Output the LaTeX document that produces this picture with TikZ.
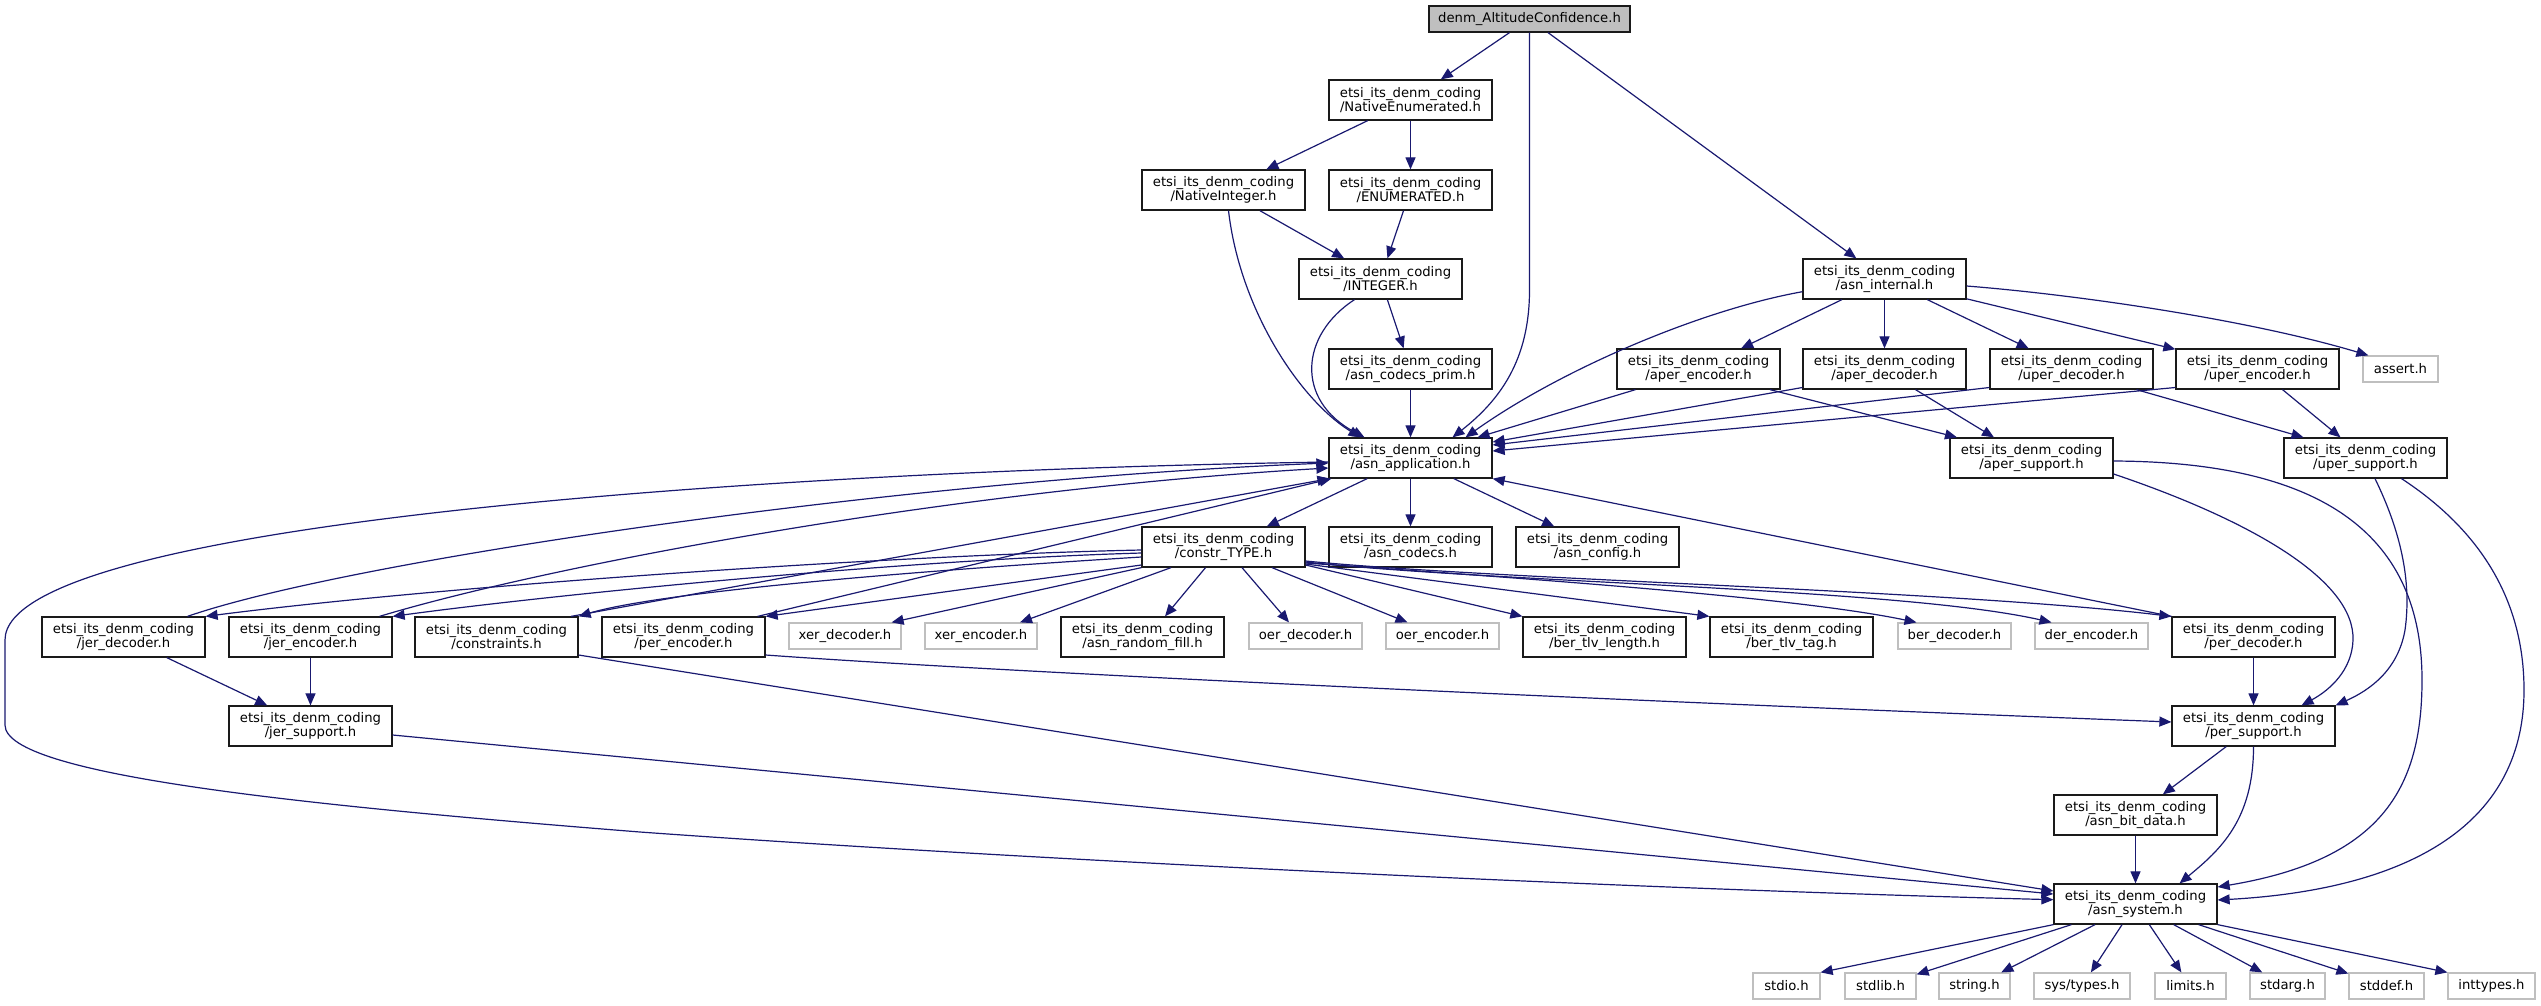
\documentclass[tikz,border=0pt]{standalone}
\usepackage{fontspec}
\setmainfont{DejaVu Sans}
\usetikzlibrary{arrows.meta}
\definecolor{edgeblue}{HTML}{191970}
\definecolor{sysgray}{HTML}{BFBFBF}
\definecolor{boxline}{HTML}{1A1A1A}

\begin{document}
\begin{tikzpicture}[x=1pt, y=-1pt,
        every node/.style={font=\fontsize{13.2}{14.5}\selectfont, align=center, inner sep=0pt},
        hdrbox/.style={draw=boxline, fill=white, line width=1.25pt, minimum width=163pt, minimum height=40pt},
        sysbox/.style={draw=sysgray, fill=white, line width=1.25pt, minimum height=26pt},
        rootbox/.style={draw=boxline, fill=sysgray, line width=1.25pt, minimum width=201pt, minimum height=26pt},
        incl/.style={draw=edgeblue, line width=1.2pt, -{Triangle[length=12pt, width=10pt]}}]
        \useasboundingbox (0,0) rectangle (2541,1005);

        % Top level - the file itself
        \node[rootbox] (root) at (1529.5, 19) {denm\_AltitudeConfidence.h};

        % Second and third level
        \node[hdrbox] (ne) at (1410.5, 100) {etsi\_its\_denm\_coding\\/NativeEnumerated.h};
        \node[hdrbox] (nint) at (1223.5, 190) {etsi\_its\_denm\_coding\\/NativeInteger.h};
        \node[hdrbox] (enm) at (1410.5, 190) {etsi\_its\_denm\_coding\\/ENUMERATED.h};
        \node[hdrbox] (intg) at (1380.5, 279) {etsi\_its\_denm\_coding\\/INTEGER.h};
        \node[hdrbox] (ai) at (1884.5, 279) {etsi\_its\_denm\_coding\\/asn\_internal.h};

        % Fourth level
        \node[hdrbox] (prim) at (1410.5, 369) {etsi\_its\_denm\_coding\\/asn\_codecs\_prim.h};
        \node[hdrbox] (ae) at (1698.5, 369) {etsi\_its\_denm\_coding\\/aper\_encoder.h};
        \node[hdrbox] (ad) at (1884.5, 369) {etsi\_its\_denm\_coding\\/aper\_decoder.h};
        \node[hdrbox] (ud) at (2071.5, 369) {etsi\_its\_denm\_coding\\/uper\_decoder.h};
        \node[hdrbox] (ue) at (2257.5, 369) {etsi\_its\_denm\_coding\\/uper\_encoder.h};
        \node[sysbox, minimum width=75pt] (as) at (2400.5, 369) {assert.h};

        % Fifth level
        \node[hdrbox] (app) at (1410.5, 458) {etsi\_its\_denm\_coding\\/asn\_application.h};
        \node[hdrbox] (aps) at (2031.5, 458) {etsi\_its\_denm\_coding\\/aper\_support.h};
        \node[hdrbox] (ups) at (2365.5, 458) {etsi\_its\_denm\_coding\\/uper\_support.h};

        % Sixth level
        \node[hdrbox] (ct) at (1223.5, 547) {etsi\_its\_denm\_coding\\/constr\_TYPE.h};
        \node[hdrbox] (codecs) at (1410.5, 547) {etsi\_its\_denm\_coding\\/asn\_codecs.h};
        \node[hdrbox] (cfg) at (1597.5, 547) {etsi\_its\_denm\_coding\\/asn\_config.h};

        % Seventh level - included by constr_TYPE.h
        \node[hdrbox] (jd) at (123.5, 637) {etsi\_its\_denm\_coding\\/jer\_decoder.h};
        \node[hdrbox] (je) at (310.5, 637) {etsi\_its\_denm\_coding\\/jer\_encoder.h};
        \node[hdrbox] (cn) at (496.5, 637) {etsi\_its\_denm\_coding\\/constraints.h};
        \node[hdrbox] (pe) at (683.5, 637) {etsi\_its\_denm\_coding\\/per\_encoder.h};
        \node[sysbox, minimum width=112pt] (xd) at (845, 636) {xer\_decoder.h};
        \node[sysbox, minimum width=112pt] (xe) at (981, 636) {xer\_encoder.h};
        \node[hdrbox] (arf) at (1142.5, 637) {etsi\_its\_denm\_coding\\/asn\_random\_fill.h};
        \node[sysbox, minimum width=113pt] (od) at (1305.5, 636) {oer\_decoder.h};
        \node[sysbox, minimum width=113pt] (oe) at (1442.5, 636) {oer\_encoder.h};
        \node[hdrbox] (btl) at (1604.5, 637) {etsi\_its\_denm\_coding\\/ber\_tlv\_length.h};
        \node[hdrbox] (btt) at (1791.5, 637) {etsi\_its\_denm\_coding\\/ber\_tlv\_tag.h};
        \node[sysbox, minimum width=113pt] (bd) at (1954.5, 636) {ber\_decoder.h};
        \node[sysbox, minimum width=113pt] (de) at (2091.5, 636) {der\_encoder.h};
        \node[hdrbox] (pd) at (2253.5, 637) {etsi\_its\_denm\_coding\\/per\_decoder.h};

        % Support level
        \node[hdrbox] (js) at (310.5, 726) {etsi\_its\_denm\_coding\\/jer\_support.h};
        \node[hdrbox] (ps) at (2253.5, 726) {etsi\_its\_denm\_coding\\/per\_support.h};
        \node[hdrbox] (abd) at (2135.5, 815) {etsi\_its\_denm\_coding\\/asn\_bit\_data.h};
        \node[hdrbox] (asys) at (2135.5, 904) {etsi\_its\_denm\_coding\\/asn\_system.h};

        % Bottom level - system headers
        \node[sysbox, minimum width=67pt] (stdio) at (1786.5, 986) {stdio.h};
        \node[sysbox, minimum width=71pt] (stdlib) at (1880.5, 986) {stdlib.h};
        \node[sysbox, minimum width=71pt] (string) at (1974.5, 986) {string.h};
        \node[sysbox, minimum width=96pt] (st) at (2082, 986) {sys/types.h};
        \node[sysbox, minimum width=71pt] (lim) at (2190.5, 986) {limits.h};
        \node[sysbox, minimum width=75pt] (sarg) at (2287.5, 986) {stdarg.h};
        \node[sysbox, minimum width=75pt] (sdef) at (2386.5, 986) {stddef.h};
        \node[sysbox, minimum width=87pt] (it) at (2491.5, 986) {inttypes.h};

        % From the top file
        \draw[incl] (root) -- (ne);
        \draw[incl] (root) -- (ai);
        \draw[incl] (root.south) -- (1529.5, 290) .. controls (1529.5, 360) and (1500, 400) .. ([xshift=42pt]app.north);

        % NativeEnumerated, NativeInteger, ENUMERATED, INTEGER
        \draw[incl] (ne) -- (nint);
        \draw[incl] (ne) -- (enm);
        \draw[incl] (nint) -- (intg);
        \draw[incl] ([xshift=5pt]nint.south) .. controls (1240, 310) and (1300, 400) .. ([xshift=-50pt]app.north);
        \draw[incl] (enm) -- (intg);
        \draw[incl] (intg) -- (prim);
        \draw[incl] ([xshift=-26pt]intg.south) .. controls (1300, 335) and (1295, 400) .. ([xshift=-46pt]app.north);
        \draw[incl] (prim) -- (app);

        % asn_internal
        \draw[incl] ([yshift=-12.7pt]ai.west) .. controls (1700, 310) and (1560, 370) .. ([xshift=55pt]app.north);
        \draw[incl] (ai) -- (ae);
        \draw[incl] (ai) -- (ad);
        \draw[incl] (ai) -- (ud);
        \draw[incl] (ai) -- (ue);
        \draw[incl] ([yshift=-7pt]ai.east) .. controls (2080, 295) and (2250, 320) .. ([xshift=6pt]as.north west);

        % aper and uper coders
        \draw[incl] ([xshift=-63pt]ae.south) -- ([xshift=67pt]app.north);
        \draw[incl] ([xshift=71.5pt]ae.south) -- ([xshift=-74.5pt]aps.north);
        \draw[incl] ([yshift=-18.5pt]ad.west) -- ([yshift=16pt]app.east);
        \draw[incl] ([xshift=31pt]ad.south) -- ([xshift=-37.5pt]aps.north);
        \draw[incl] ([yshift=-18.5pt]ud.west) -- ([yshift=13pt]app.east);
        \draw[incl] ([xshift=65pt]ud.south) -- ([xshift=-62pt]ups.north);
        \draw[incl] ([yshift=-18.5pt]ue.west) -- ([yshift=7pt]app.east);
        \draw[incl] (ue) -- (ups);

        % asn_application
        \draw[incl] (app) -- (ct);
        \draw[incl] (app) -- (codecs);
        \draw[incl] (app) -- (cfg);
        \draw[incl] ([yshift=-4pt]app.west) .. controls (800, 470) and (5, 520) .. (5, 640) -- (5, 725)
            .. controls (5, 775) and (300, 805) .. (640, 832) .. controls (1000, 858) and (1600, 888) .. ([yshift=4.3pt]asys.west);

        % constr_TYPE
        \draw[incl] ([yshift=-3pt]ct.west) .. controls (900, 555) and (450, 585) .. (jd.north east);
        \draw[incl] ([yshift=-6pt]ct.west) .. controls (900, 560) and (550, 595) .. (je.north east);
        \draw[incl] ([yshift=-10pt]ct.west) .. controls (850, 575) and (650, 595) .. (cn.north east);
        \draw[incl] ([yshift=-18pt]ct.west) -- (pe.north east);
        \draw[incl] (ct.south west) -- ([xshift=-10pt]xd.north east);
        \draw[incl] ([xshift=-52.5pt]ct.south) -- ([xshift=39pt]xe.north);
        \draw[incl] ([xshift=-18pt]ct.south) -- ([xshift=22.5pt]arf.north);
        \draw[incl] ([xshift=18.5pt]ct.south) -- ([xshift=-16.5pt]od.north);
        \draw[incl] ([xshift=48.5pt]ct.south) -- ([xshift=-35pt]oe.north);
        \draw[incl] ([yshift=-18pt]ct.east) -- (btl.north west);
        \draw[incl] ([yshift=-17pt]ct.east) -- (btt.north west);
        \draw[incl] ([yshift=-16pt]ct.east) .. controls (1550, 580) and (1800, 598) .. ([xshift=-38pt]bd.north);
        \draw[incl] ([yshift=-15pt]ct.east) .. controls (1500, 583) and (1900, 588) .. ([xshift=-40pt]de.north);
        \draw[incl] ([yshift=-14pt]ct.east) .. controls (1500, 580) and (1950, 590) .. (pd.north west);

        % back to asn_application
        \draw[incl] ([xshift=64pt]jd.north) .. controls (350, 560) and (900, 480) .. ([yshift=-5pt]app.west);
        \draw[incl] ([xshift=69pt]je.north) .. controls (550, 565) and (950, 490) .. ([yshift=-10pt]app.west);
        \draw[incl] ([xshift=74.5pt]cn.north) -- ([xshift=1pt]app.south west);
        \draw[incl] ([xshift=-8pt]pe.north east) -- ([xshift=3pt]app.south west);
        \draw[incl] (pd.north west) -- (app.south east);

        % jer support and the long lines
        \draw[incl] (jd) -- (js);
        \draw[incl] (je) -- (js);
        \draw[incl] ([yshift=-9pt]js.east) -- ([yshift=10pt]asys.west);
        \draw[incl] ([yshift=-18pt]cn.east) -- ([yshift=13pt]asys.west);
        \draw[incl] ([yshift=-18pt]pe.east) .. controls (1000, 672) and (1600, 700) .. ([yshift=4pt]ps.west);

        % per, aper and uper support
        \draw[incl] (pd) -- (ps);
        \draw[incl] ([yshift=-16pt]aps.east) .. controls (2250, 520) and (2355, 580) .. (2353, 640)
            .. controls (2352, 670) and (2330, 690) .. ([xshift=48pt]ps.north);
        \draw[incl] ([yshift=-3pt]aps.east) .. controls (2330, 462) and (2422, 540) .. (2422, 680)
            .. controls (2422, 790) and (2380, 860) .. ([yshift=17pt]asys.east);
        \draw[incl] ([xshift=9.5pt]ups.south) .. controls (2400, 530) and (2412, 580) .. (2405, 630)
            .. controls (2398, 670) and (2370, 690) .. (ps.north east);
        \draw[incl] ([xshift=36pt]ups.south) .. controls (2480, 530) and (2524, 600) .. (2524, 690)
            .. controls (2524, 830) and (2400, 890) .. ([yshift=4pt]asys.east);
        \draw[incl] (ps) -- (abd);
        \draw[incl] (ps.south) .. controls (2253.5, 820) and (2220, 850) .. ([xshift=44pt]asys.north);
        \draw[incl] (abd) -- (asys);

        % asn_system
        \draw[incl] (asys.south west) -- (stdio.north east);
        \draw[incl] (asys) -- (stdlib);
        \draw[incl] (asys) -- (string);
        \draw[incl] (asys) -- (st);
        \draw[incl] (asys) -- (lim);
        \draw[incl] (asys) -- (sarg);
        \draw[incl] (asys) -- (sdef);
        \draw[incl] (asys.south east) -- (it.north west);
    \end{tikzpicture}
\end{document}
